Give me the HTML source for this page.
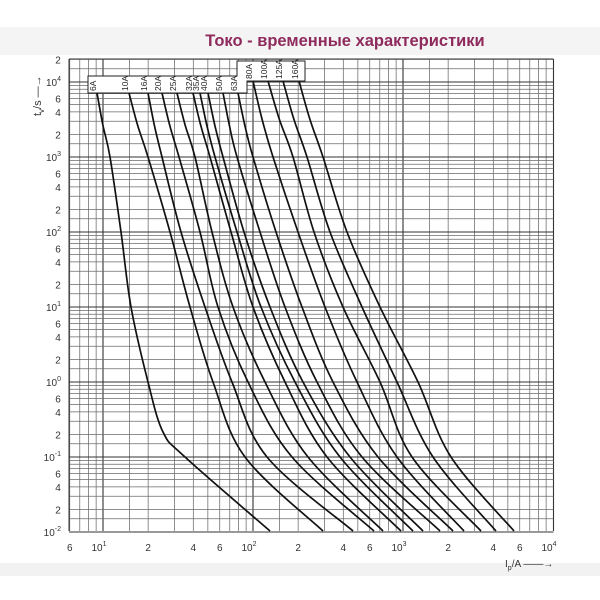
<!DOCTYPE html>
<html><head><meta charset="utf-8"><style>
html,body{margin:0;padding:0;background:#fff;width:600px;height:600px;overflow:hidden}
svg{display:block}
</style></head><body>
<svg id="s" width="600" height="600" xmlns="http://www.w3.org/2000/svg" font-family="'Liberation Sans', sans-serif">
<rect x="0" y="27" width="600" height="28" fill="#f4f4f4"/>
<rect x="0" y="563" width="600" height="13" fill="#f2f2f2"/>
<text x="345" y="46" text-anchor="middle" font-size="16.5" font-weight="bold" fill="#8e2b5c">Токо - временные характеристики</text>
<g id="grid"></g>
<g id="curves" fill="none" stroke="#111" stroke-width="1.7"></g>
<g id="labels" font-family="'Liberation Sans Narrow','Liberation Sans',sans-serif" font-size="10" fill="#333"></g>
</svg>
<script>
const NS="http://www.w3.org/2000/svg";
function el(p,t,a,txt){const e=document.createElementNS(NS,t);for(const k in a)e.setAttribute(k,a[k]);if(txt!==undefined)e.textContent=txt;p.appendChild(e);return e;}
const X=v=>253+150*(Math.log10(v)-2);
const Y=v=>382-75*Math.log10(v);
const L=69,R=553.5,T=59,B=531;
const g=document.getElementById('grid');
const mults=[1,1.5,2,3,4,5,6,7,8,9];
for(let d=0;d<=3;d++)for(const m of mults){const v=m*Math.pow(10,d);if(v<6)continue;const x=X(v);
 el(g,'line',{x1:x,y1:T,x2:x,y2:B,stroke:m==1?'#333':'#6a6a6a','stroke-width':m==1?1.1:0.75});}
el(g,'line',{x1:R,y1:T,x2:R,y2:B,stroke:'#333','stroke-width':1.1});
for(let d=-2;d<=4;d++)for(const m of mults){const v=m*Math.pow(10,d);if(v>20000)continue;const y=Y(v);
 el(g,'line',{x1:L,y1:y,x2:R,y2:y,stroke:m==1?'#333':'#6a6a6a','stroke-width':m==1?1.1:0.75});}
el(g,'line',{x1:L,y1:T,x2:R,y2:T,stroke:'#333','stroke-width':1});
el(g,'line',{x1:L,y1:T,x2:L,y2:B,stroke:'#333','stroke-width':1});
el(g,'path',{d:'M88,93 L88,76 L237,76 L237,61 L305,61 L305,81 L247,81 L247,93 Z',fill:'#fff',stroke:'#222','stroke-width':1});
const names=['6A','10A','16A','20A','25A','32A','35A','40A','50A','63A','80A','100A','125A','160A'];
const tops=[97,129,148,162,177,193,200,208,223,238,253,268,283,299];
const ys=[157,232,307,382,457,531];
const pts=[
[110,121,131,148,185,270],
[148,170,190,213,245,323],
[162,181,205,232,267,353],
[179,200,218,248,292,374],
[195,212,233,265,308,383],
[210,231,253,285,327,401],
[215,237,261,295,340,413],
[223,244,270,303,350,423],
[237,260,285,317,362,440],
[253,276,302,333,378,453],
[273,298,325,357,397,464],
[293,314,343,380,412,481],
[307,330,362,397,433,496],
[323,347,380,418,451,514]];
const cg=document.getElementById('curves');
const lab=document.getElementById('labels');
names.forEach((n,i)=>{
 const ty=i>=10?81:93;
 let P=[[tops[i],ty],[tops[i]+0.45*(pts[i][0]-tops[i]),(ty+157)/2]];
 ys.forEach((y,j)=>P.push([pts[i][j],y]));
 if(i==0){P.splice(6,0,[163,432]);}
 let d='M'+P[0][0]+','+P[0][1];
 for(let k=0;k<P.length-1;k++){const p0=P[Math.max(k-1,0)],p1=P[k],p2=P[k+1],p3=P[Math.min(k+2,P.length-1)];
  const c1=[p1[0]+(p2[0]-p0[0])/6,p1[1]+(p2[1]-p0[1])/6],c2=[p2[0]-(p3[0]-p1[0])/6,p2[1]-(p3[1]-p1[1])/6];
  d+=` C${c1[0].toFixed(1)},${c1[1].toFixed(1)} ${c2[0].toFixed(1)},${c2[1].toFixed(1)} ${p2[0]},${p2[1]}`;}
 el(cg,'path',{d});
 const lx=tops[i]-1, ly=i>=10?79:91;
 el(lab,'text',{x:lx,y:ly,transform:`rotate(-90 ${lx} ${ly})`,'font-size':8.5,fill:'#222'},n);
});
const sup=(p,b,e,x,y,anchor)=>{const t=el(lab,'text',{x,y,'text-anchor':anchor||'end'});el(t,'tspan',{},b);el(t,'tspan',{dy:-5,'font-size':7},e);};
for(let d=-2;d<=4;d++){
 sup(lab,'10',d<0?'-'+(-d):String(d),61,Y(Math.pow(10,d))+4);
 if(d<4)[2,4,6].forEach(m=>el(lab,'text',{x:58,y:Y(m*Math.pow(10,d))+4,'text-anchor':'middle'},String(m)));
}
el(lab,'text',{x:58,y:Y(20000)+4,'text-anchor':'middle'},'2');
el(lab,'text',{x:X(6),y:551,'text-anchor':'middle'},'6');
for(let d=1;d<=4;d++){
 const t=el(lab,'text',{x:X(Math.pow(10,d))-4,y:551,'text-anchor':'middle'});el(t,'tspan',{},'10');el(t,'tspan',{dy:-5,'font-size':7},String(d));
 if(d<4)[2,4,6].forEach(m=>el(lab,'text',{x:X(m*Math.pow(10,d)),y:551,'text-anchor':'middle'},String(m)));
}
const at=el(lab,'text',{x:0,y:0,transform:'translate(41,116) rotate(-90)','font-size':11});
el(at,'tspan',{},'t');el(at,'tspan',{dy:3,'font-size':8},'v');el(at,'tspan',{dy:-3},'/s —→');
const bt=el(lab,'text',{x:505,y:567,'font-size':10});
el(bt,'tspan',{},'I');el(bt,'tspan',{dy:3,'font-size':7},'p');el(bt,'tspan',{dy:-3},'/A ——→');
</script>
</body></html>
